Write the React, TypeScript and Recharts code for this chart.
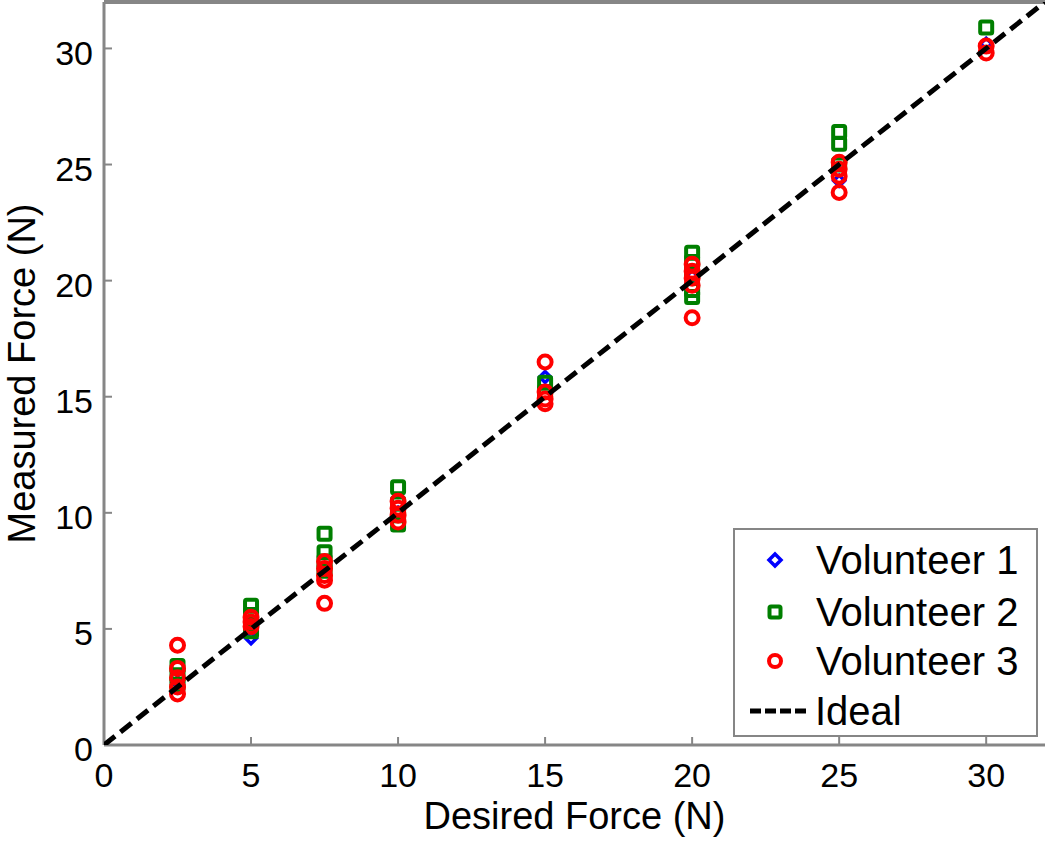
import React from 'react';
import { ScatterChart, Scatter, XAxis, YAxis, Legend } from 'recharts';

// ---- data ----
const seriesNames = ['Volunteer 1', 'Volunteer 2', 'Volunteer 3', 'Ideal'];
const axisTicks = [0, 5, 10, 15, 20, 25, 30];
const axisDomain = [0, 32];

const volunteer1 = [
  { x: 2.5, y: 2.7 }, { x: 5, y: 4.6 }, { x: 7.5, y: 7.6 }, { x: 10, y: 10.0 },
  { x: 15, y: 15.85 }, { x: 20, y: 20.2 }, { x: 25, y: 24.3 }, { x: 30, y: 30.2 },
];

const volunteer2 = [
  { x: 2.5, y: 3.4 }, { x: 2.5, y: 3.0 }, { x: 2.5, y: 2.6 },
  { x: 5, y: 6.0 }, { x: 5, y: 5.6 }, { x: 5, y: 5.2 }, { x: 5, y: 4.9 },
  { x: 7.5, y: 9.1 }, { x: 7.5, y: 8.3 }, { x: 7.5, y: 7.9 }, { x: 7.5, y: 7.5 },
  { x: 10, y: 11.1 }, { x: 10, y: 10.4 }, { x: 10, y: 9.9 }, { x: 10, y: 9.5 },
  { x: 15, y: 15.6 }, { x: 15, y: 15.2 },
  { x: 20, y: 21.2 }, { x: 20, y: 20.8 }, { x: 20, y: 20.3 }, { x: 20, y: 19.6 }, { x: 20, y: 19.3 },
  { x: 25, y: 26.4 }, { x: 25, y: 25.9 }, { x: 25, y: 25.0 },
  { x: 30, y: 30.9 },
];

const volunteer3 = [
  { x: 2.5, y: 4.3 }, { x: 2.5, y: 3.3 }, { x: 2.5, y: 2.9 }, { x: 2.5, y: 2.5 }, { x: 2.5, y: 2.2 },
  { x: 5, y: 5.5 }, { x: 5, y: 5.3 }, { x: 5, y: 5.1 },
  { x: 7.5, y: 7.9 }, { x: 7.5, y: 7.6 }, { x: 7.5, y: 7.3 }, { x: 7.5, y: 7.1 }, { x: 7.5, y: 6.1 },
  { x: 10, y: 10.5 }, { x: 10, y: 10.2 }, { x: 10, y: 9.9 }, { x: 10, y: 9.6 },
  { x: 15, y: 16.5 }, { x: 15, y: 15.2 }, { x: 15, y: 14.9 }, { x: 15, y: 14.7 },
  { x: 20, y: 20.7 }, { x: 20, y: 20.4 }, { x: 20, y: 20.1 }, { x: 20, y: 19.8 }, { x: 20, y: 18.4 },
  { x: 25, y: 25.1 }, { x: 25, y: 24.8 }, { x: 25, y: 24.5 }, { x: 25, y: 23.8 },
  { x: 30, y: 30.1 }, { x: 30, y: 29.8 },
];

const idealLine = [{ x: 0, y: 0 }, { x: 32, y: 32 }];

// ---- styles ----
const BLUE = '#0000ff';
const GREEN = '#007f00';
const RED = '#ff0000';
const AXIS_GRAY = '#868686';
const FONT = '"Liberation Sans", Arial, Helvetica, sans-serif';

const Diamond = (props: any) => {
  const { cx, cy } = props;
  if (cx == null || cy == null) return <g />;
  const r = 5.5;
  return (
    <path
      d={`M${cx},${cy - r} L${cx + r},${cy} L${cx},${cy + r} L${cx - r},${cy} Z`}
      fill="none"
      stroke={BLUE}
      strokeWidth={3.5}
    />
  );
};

const Square = (props: any) => {
  const { cx, cy } = props;
  if (cx == null || cy == null) return <g />;
  const h = 6;
  return (
    <rect x={cx - h} y={cy - h} width={2 * h} height={2 * h} rx={1.5}
      fill="none" stroke={GREEN} strokeWidth={4} />
  );
};

const Circle = (props: any) => {
  const { cx, cy } = props;
  if (cx == null || cy == null) return <g />;
  return <circle cx={cx} cy={cy} r={6.5} fill="none" stroke={RED} strokeWidth={4} />;
};

const NoShape = () => <g />;

const LegendBox = () => {
  const rows = [30, 82, 131, 181];
  const markers = [
    <path key="m0" d={`M40,${rows[0] - 6} L46,${rows[0]} L40,${rows[0] + 6} L34,${rows[0]} Z`} fill="none" stroke={BLUE} strokeWidth={3.5} />,
    <rect key="m1" x={34.5} y={rows[1] - 5.5} width={11} height={11} rx={1.5} fill="none" stroke={GREEN} strokeWidth={4} />,
    <circle key="m2" cx={40} cy={rows[2]} r={6} fill="none" stroke={RED} strokeWidth={4} />,
    <line key="m3" x1={15} y1={rows[3]} x2={75} y2={rows[3]} stroke="#000" strokeWidth={5} strokeDasharray="11 4" />,
  ];
  return (
    <div style={{ width: 305, height: 209, border: `2px solid ${AXIS_GRAY}`, background: '#fff', boxSizing: 'border-box' }}>
      <svg width={301} height={205} style={{ display: 'block' }}>
        {markers}
        {seriesNames.map((n, i) => (
          <text key={n} x={i === 3 ? 80 : 81} y={rows[i]} dy="0.36em" fontSize={40} fontFamily={FONT} fill="#000">
            {n}
          </text>
        ))}
      </svg>
    </div>
  );
};

export default function App() {
  return (
    <div style={{ position: 'absolute', left: 0, top: 0, fontFamily: FONT, background: '#fff' }}>
      <ScatterChart width={1050} height={844} margin={{ top: 0, right: 5, bottom: 0, left: 0 }}>
        <XAxis
          type="number"
          dataKey="x"
          domain={axisDomain}
          ticks={axisTicks}
          allowDataOverflow
          height={99}
          tickSize={-8}
          tickMargin={26}
          tick={{ fill: '#000', fontSize: 34 }}
          axisLine={{ stroke: AXIS_GRAY, strokeWidth: 3 }}
          tickLine={{ stroke: AXIS_GRAY, strokeWidth: 2 }}
          label={{ value: 'Desired Force (N)', position: 'insideBottom', offset: 15, fontSize: 38, fill: '#000' }}
        />
        <XAxis
          xAxisId="top"
          orientation="top"
          type="number"
          dataKey="x"
          domain={axisDomain}
          ticks={axisTicks}
          allowDataOverflow
          height={2}
          tickSize={-8}
          tick={false}
          axisLine={{ stroke: AXIS_GRAY, strokeWidth: 4 }}
          tickLine={{ stroke: AXIS_GRAY, strokeWidth: 2 }}
        />
        <YAxis
          type="number"
          dataKey="y"
          domain={axisDomain}
          ticks={axisTicks}
          allowDataOverflow
          width={104}
          tickSize={-8}
          tickMargin={19}
          tick={{ fill: '#000', fontSize: 34, dy: 4 }}
          axisLine={{ stroke: AXIS_GRAY, strokeWidth: 3 }}
          tickLine={{ stroke: AXIS_GRAY, strokeWidth: 2 }}
          label={{ value: 'Measured Force (N)', angle: -90, position: 'insideLeft', offset: 22, fontSize: 38, fill: '#000', style: { textAnchor: 'middle' } }}
        />
        <YAxis
          yAxisId="right"
          orientation="right"
          type="number"
          dataKey="y"
          domain={axisDomain}
          ticks={axisTicks}
          allowDataOverflow
          width={0}
          tickSize={-8}
          tick={false}
          axisLine={{ stroke: AXIS_GRAY, strokeWidth: 3 }}
          tickLine={{ stroke: AXIS_GRAY, strokeWidth: 2 }}
        />
        <Scatter name={seriesNames[0]} data={volunteer1} shape={Diamond} isAnimationActive={false} />
        <Scatter name={seriesNames[1]} data={volunteer2} shape={Square} isAnimationActive={false} />
        <Scatter name={seriesNames[2]} data={volunteer3} shape={Circle} isAnimationActive={false} />
        <Scatter
          name={seriesNames[3]}
          data={idealLine}
          shape={NoShape}
          line={{ stroke: '#000', strokeWidth: 5, strokeDasharray: '14 7' }}
          isAnimationActive={false}
        />
        <Legend
          layout="horizontal"
          align="center"
          verticalAlign="middle"
          content={() => <LegendBox />}
          wrapperStyle={{ left: 733, top: 528, width: 305, height: 209 }}
        />
      </ScatterChart>
    </div>
  );
}
